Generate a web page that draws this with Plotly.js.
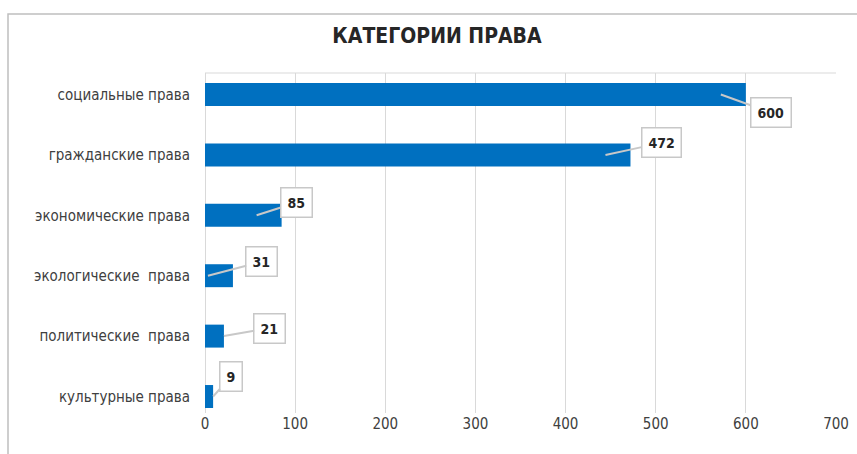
<!DOCTYPE html>
<html>
<head>
<meta charset="utf-8">
<script src="https://cdn.plot.ly/plotly-3.0.1.min.js"></script>
<style>html,body{margin:0;padding:0;background:#fff;}#chart{width:857px;height:454px;}</style>
</head>
<body>
<div id="chart"></div>
<script>
const categories = ["социальные права", "гражданские права", "экономические права", "экологические  права", "политические  права", "культурные права"];
const values = [600, 472, 85, 31, 21, 9];
const xTicks = [0, 100, 200, 300, 400, 500, 600, 700];
const chartTitle = "КАТЕГОРИИ ПРАВА";

// callout box offsets from leader tip, in pixels (style)
const boxOffsets = [[50, 18], [56, -12], [40, -13], [54, -14], [46, -8], [18, -20]];

const FONT = "'DejaVu Sans Condensed', 'Liberation Sans Narrow', sans-serif";
const W = 857, H = 454;
const M = {l: 205, r: 21, t: 73, b: 41};
const plotW = W - M.l - M.r;
const pxPerUnit = plotW / 700;

const annotations = values.map((v, i) => {
  const barPx = v * pxPerUnit;
  const tipPx = barPx >= 25 ? barPx - 25 : barPx;
  return {
    x: tipPx / pxPerUnit, y: categories[i], xref: 'x', yref: 'y',
    text: '<b>' + v + '</b>',
    showarrow: true, arrowhead: 0, arrowwidth: 2, arrowcolor: '#c8c8c8',
    ax: boxOffsets[i][0], ay: boxOffsets[i][1],
    bgcolor: '#ffffff', bordercolor: '#c8c8c8', borderwidth: 1.5, borderpad: 6,
    font: {family: FONT, size: 14, color: '#262626'}
  };
});

const trace = {
  type: 'bar', orientation: 'h',
  x: values, y: categories,
  width: 0.38,
  marker: {color: '#0070C0'},
  hoverinfo: 'x+y'
};

const layout = {
  width: W, height: H,
  margin: M,
  paper_bgcolor: '#ffffff', plot_bgcolor: '#ffffff',
  title: {text: '<b>' + chartTitle + '</b>', x: 437 / W, xanchor: 'center', y: 1 - 36 / H, yanchor: 'middle',
          font: {family: FONT, size: 21, color: '#262626'}},
  showlegend: false,
  xaxis: {
    range: [0, 700], tickvals: xTicks, ticktext: xTicks.map(String),
    showgrid: true, gridcolor: '#d9d9d9', gridwidth: 1,
    zeroline: true, zerolinecolor: '#d9d9d9', zerolinewidth: 1,
    showline: false, ticks: '',
    tickfont: {family: FONT, size: 15, color: '#404040'},
    fixedrange: true
  },
  yaxis: {
    type: 'category', categoryorder: 'array', categoryarray: categories,
    range: [5.273, -0.356],
    showgrid: false, zeroline: false, showline: false, ticks: '',
    ticklabelstandoff: 14,
    tickfont: {family: FONT, size: 15, color: '#404040'},
    fixedrange: true
  },
  annotations: annotations,
  shapes: [
    {type: 'line', xref: 'paper', yref: 'paper', x0: 0, x1: 1, y0: 1, y1: 1, line: {color: '#d9d9d9', width: 1}},
    {type: 'rect', xref: 'paper', yref: 'paper', x0: (8 - M.l) / plotW, x1: (880 - M.l) / plotW,
     y0: -0.2, y1: 1 + (M.t - 14) / (H - M.t - M.b), line: {color: '#bfbfbf', width: 1.5}, fillcolor: 'rgba(0,0,0,0)', layer: 'below'}
  ]
};

Plotly.newPlot('chart', [trace], layout, {displayModeBar: false, staticPlot: true});
</script>
</body>
</html>
